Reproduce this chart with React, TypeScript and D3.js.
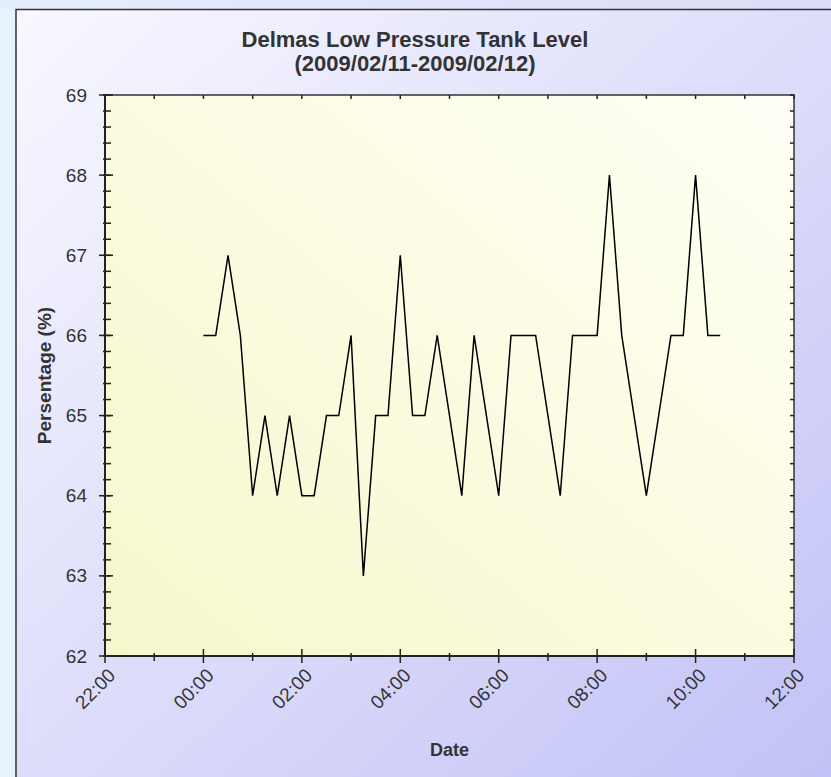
import React from "react";
import * as d3 from "d3";

const times = [
  "00:00","00:15","00:30","00:45","01:00","01:15","01:30","01:45",
  "02:00","02:15","02:30","02:45","03:00","03:15","03:30","03:45",
  "04:00","04:15","04:30","04:45","05:00","05:15","05:30","05:45",
  "06:00","06:15","06:30","06:45","07:00","07:15","07:30","07:45",
  "08:00","08:15","08:30","08:45","09:00","09:15","09:30","09:45",
  "10:00","10:15","10:30",
];
const levels = [
  66,66,67,66,64,65,64,65,
  64,64,65,65,66,63,65,65,
  67,65,65,66,65,64,66,65,
  64,66,66,66,65,64,66,66,
  66,68,66,65,64,65,66,66,
  68,66,66,
];
const yTicks = [62, 63, 64, 65, 66, 67, 68, 69];
const titleLines = ["Delmas Low Pressure Tank Level", "(2009/02/11-2009/02/12)"];
const xTitle = "Date";
const yTitle = "Persentage (%)";
const domainStart = "2009-02-11T22:00:00Z";
const domainEnd = "2009-02-12T12:00:00Z";
const dataDay = "2009-02-12";

const W = 831, H = 777;
const L = 105, R = 794, T = 95, B = 656;

export default function App() {
  const x = d3.scaleUtc().domain([new Date(domainStart), new Date(domainEnd)]).range([L, R]);
  const y = d3.scaleLinear().domain([62, 69]).range([B, T]);
  const data = times.map((t, i) => ({ d: new Date(`${dataDay}T${t}:00Z`), v: levels[i] }));
  const line = d3.line<{ d: Date; v: number }>().x(p => x(p.d)).y(p => y(p.v));
  const hourTicks = x.ticks(d3.utcHour.every(1)!);
  const fmt = d3.utcFormat("%H:%M");
  const minorY: number[] = [];
  for (let v = 62; v <= 69.0001; v += 0.2) minorY.push(Math.round(v * 10) / 10);
  const font = "'Liberation Sans', Arial, sans-serif";
  const txt = "#333";

  return (
    <svg width={W} height={H} style={{ position: "absolute", left: 0, top: 0 }} fontFamily={font}>
      <defs>
        <linearGradient id="panel" x1="0" y1="0" x2="1" y2="1">
          <stop offset="0" stopColor="#f8f8ff" />
          <stop offset="1" stopColor="#c0c0f6" />
        </linearGradient>
        <linearGradient id="plot" x1="1" y1="0" x2="0" y2="1">
          <stop offset="0" stopColor="#fffff6" />
          <stop offset="1" stopColor="#f7f7cc" />
        </linearGradient>
        <linearGradient id="top" x1="0" y1="0" x2="1" y2="0">
          <stop offset="0" stopColor="#e6eefc" />
          <stop offset="1" stopColor="#dcdcf8" />
        </linearGradient>
      </defs>
      <rect x={0} y={0} width={W} height={H} fill="#e6f2fc" />
      <rect x={0} y={0} width={W} height={9} fill="url(#top)" />
      <rect x={16} y={9.5} width={W + 20} height={H + 20} fill="url(#panel)" stroke="#333" strokeWidth={1.5} />

      <text x={415} y={39} textAnchor="middle" dominantBaseline="central" fontSize={22} fontWeight="bold" fill={txt}>{titleLines[0]}</text>
      <text x={415} y={63} textAnchor="middle" dominantBaseline="central" fontSize={22} fontWeight="bold" fill={txt}>{titleLines[1]}</text>

      <rect x={L} y={T} width={R - L} height={B - T} fill="url(#plot)" stroke="#333" strokeWidth={1.5} />

      {/* left axis minor ticks */}
      {minorY.map(v => (
        <line key={"ml" + v} x1={L - 2} x2={L + 6} y1={y(v)} y2={y(v)} stroke="#222" strokeWidth={1.5} />
      ))}
      {/* right edge ticks */}
      {minorY.map(v => (
        <line key={"mr" + v} x1={R - 4} x2={R} y1={y(v)} y2={y(v)} stroke="#222" strokeWidth={1.5} />
      ))}
      {/* left major ticks and labels */}
      {yTicks.map(v => (
        <g key={"yt" + v}>
          <line x1={L - 6} x2={L + 8} y1={y(v)} y2={y(v)} stroke="#222" strokeWidth={1.5} />
          <text x={87} y={y(v)} textAnchor="end" dominantBaseline="central" fontSize={19} fill={txt}>{v}</text>
        </g>
      ))}
      {/* x ticks */}
      {hourTicks.map(t => {
        const major = t.getUTCHours() % 2 === 0;
        const px = x(t);
        return (
          <g key={"xt" + t.getTime()}>
            <line x1={px} x2={px} y1={major ? B - 7 : B - 3} y2={major ? B + 7 : B + 5} stroke="#222" strokeWidth={1.5} />
            <line x1={px} x2={px} y1={T} y2={T + 4} stroke="#222" strokeWidth={1.5} />
            {major && (
              <text
                transform={`translate(${px + 7},${B + 16}) rotate(-45)`}
                textAnchor="end"
                dominantBaseline="central"
                fontSize={19}
                fill={txt}
              >
                {fmt(t)}
              </text>
            )}
          </g>
        );
      })}
      <line x1={L} x2={R} y1={B} y2={B} stroke="#222" strokeWidth={2} />
      <line x1={L} x2={L} y1={T} y2={B} stroke="#222" strokeWidth={2} />

      <path d={line(data) || ""} fill="none" stroke="#000" strokeWidth={1.5} />

      <text x={(L + R) / 2} y={750} textAnchor="middle" dominantBaseline="central" fontSize={18} fontWeight="bold" fill={txt}>{xTitle}</text>
      <text transform={`translate(44,${(T + B) / 2}) rotate(-90)`} textAnchor="middle" dominantBaseline="central" fontSize={19} fontWeight="bold" fill={txt}>{yTitle}</text>
    </svg>
  );
}
